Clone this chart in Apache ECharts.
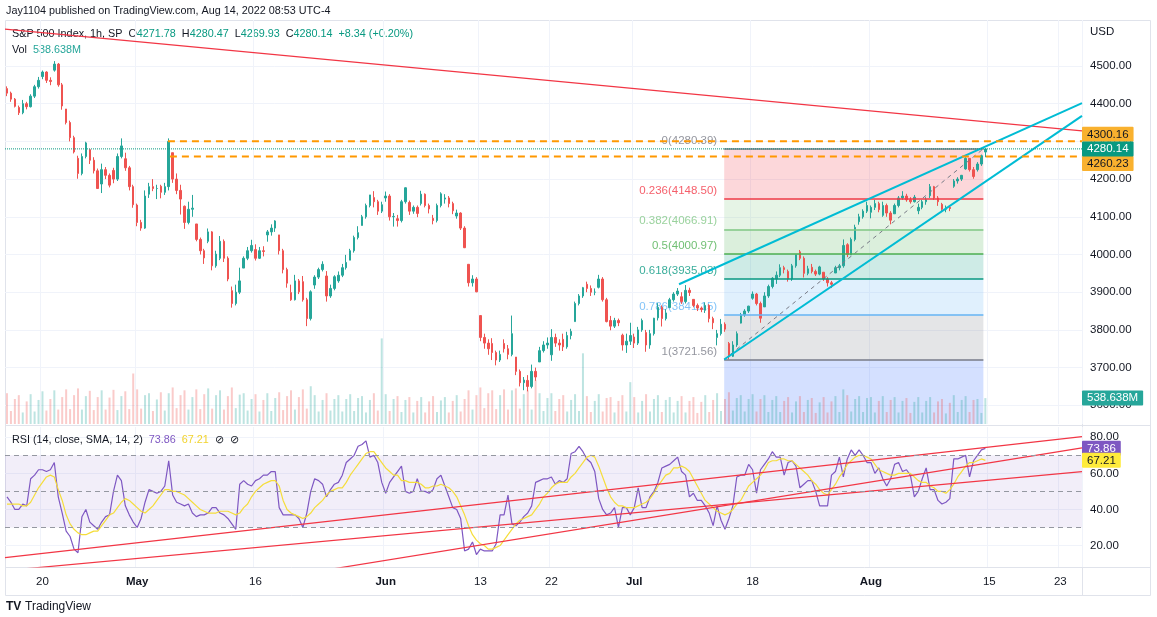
<!DOCTYPE html>
<html>
<head>
<meta charset="utf-8">
<script src="https://cdn.jsdelivr.net/npm/echarts@6/dist/echarts.min.js"></script>
<style>html,body{margin:0;padding:0;background:#fff}#c{width:1157px;height:617px}</style>
</head>
<body>
<div id="c"></div>
<script>
// ---------- DATA ----------
const tradingDays = ['04-14','04-18','04-19','04-20','04-21','04-22','04-25','04-26','04-27','04-28','04-29',
'05-02','05-03','05-04','05-05','05-06','05-09','05-10','05-11','05-12','05-13','05-16','05-17','05-18','05-19','05-20','05-23','05-24','05-25','05-26','05-27','05-31',
'06-01','06-02','06-03','06-06','06-07','06-08','06-09','06-10','06-13','06-14','06-15','06-16','06-17','06-21','06-22','06-23','06-24','06-27','06-28','06-29','06-30',
'07-01','07-05','07-06','07-07','07-08','07-11','07-12','07-13','07-14','07-15','07-18','07-19','07-20','07-21','07-22','07-25','07-26','07-27','07-28','07-29',
'08-01','08-02','08-03','08-04','08-05','08-08','08-09','08-10','08-11','08-12'];
const futureDays = ['08-15','08-16','08-17','08-18','08-19','08-22','08-23','08-24'];
const barsPerDay = 3;
const tickDays  = ['04-20','05-02','05-16','06-01','06-13','06-22','07-01','07-18','08-01','08-15','08-23'];
const tickTexts = ['20','May','16','Jun','13','22','Jul','18','Aug','15','23'];
const priceTicks = [3600,3700,3800,3900,4000,4100,4200,4300,4400,4500];
const rsiTicks = [20,40,60,80];
const rsiLevels = [70,50,30];

// [open, high, low, close] — 3 bars per trading day
const ohlc = [
[4440,4446,4420,4428],[4428,4432,4405,4412],[4412,4415,4390,4393],
[4390,4395,4370,4376],[4376,4410,4372,4400],[4400,4405,4385,4392],
[4392,4425,4390,4420],[4420,4450,4415,4445],[4445,4471,4440,4462],
[4472,4488,4465,4484],[4484,4486,4455,4462],[4462,4470,4449,4459],
[4489,4513,4485,4505],[4505,4508,4445,4450],[4450,4455,4384,4394],
[4386,4386,4345,4350],[4350,4355,4300,4310],[4310,4315,4268,4272],
[4255,4262,4201,4215],[4215,4268,4210,4260],[4260,4299,4255,4296],
[4278,4280,4240,4250],[4250,4258,4215,4222],[4222,4228,4175,4175],
[4187,4241,4163,4225],[4225,4232,4200,4210],[4210,4215,4178,4184],
[4223,4230,4189,4200],[4200,4268,4195,4260],[4260,4308,4255,4288],
[4254,4270,4222,4230],[4230,4235,4170,4180],[4180,4185,4124,4132],
[4131,4135,4075,4085],[4085,4092,4063,4070],[4070,4170,4068,4155],
[4160,4190,4150,4180],[4180,4200,4168,4175],[4175,4185,4147,4175],
[4181,4185,4149,4165],[4165,4190,4158,4180],[4180,4308,4170,4300],
[4270,4270,4190,4200],[4200,4215,4160,4170],[4170,4185,4106,4147],
[4128,4130,4068,4085],[4085,4140,4080,4120],[4120,4158,4100,4123],
[4081,4081,4035,4040],[4040,4045,4000,4010],[4010,4015,3975,3991],
[4035,4069,4030,4060],[4060,4062,3958,3970],[3970,4010,3965,4001],
[3990,4049,3985,4035],[4035,4040,3980,3990],[3990,3995,3929,3935],
[3904,3915,3859,3870],[3870,3920,3865,3900],[3900,3965,3895,3930],
[3964,3995,3964,3990],[3990,4020,3985,4010],[4010,4039,4005,4024],
[4013,4027,3984,3990],[3990,4020,3988,4010],[4010,4022,3995,4008],
[4052,4065,4034,4060],[4060,4080,4050,4070],[4070,4091,4060,4089],
[4052,4052,4000,4010],[4010,4015,3950,3960],[3960,3965,3912,3924],
[3899,3920,3877,3880],[3880,3946,3878,3930],[3930,3935,3895,3901],
[3928,3943,3875,3880],[3880,3885,3810,3830],[3830,3905,3825,3901],
[3919,3945,3909,3940],[3940,3965,3935,3960],[3960,3982,3955,3974],
[3943,3956,3875,3890],[3890,3920,3885,3910],[3910,3945,3905,3941],
[3930,3955,3925,3945],[3945,3975,3940,3965],[3965,3999,3960,3979],
[3985,4015,3985,4010],[4010,4050,4005,4045],[4045,4075,4040,4058],
[4077,4105,4077,4100],[4100,4135,4095,4130],[4130,4158,4125,4158],
[4151,4168,4125,4140],[4140,4145,4105,4115],[4115,4140,4110,4132],
[4150,4167,4140,4155],[4155,4160,4090,4100],[4100,4110,4074,4101],
[4095,4105,4074,4090],[4090,4145,4085,4140],[4140,4178,4135,4177],
[4138,4143,4105,4115],[4115,4130,4108,4125],[4125,4130,4099,4109],
[4135,4169,4130,4160],[4160,4162,4125,4130],[4130,4135,4109,4121],
[4096,4105,4080,4090],[4090,4135,4085,4130],[4130,4165,4125,4161],
[4147,4160,4135,4150],[4150,4155,4125,4135],[4135,4140,4107,4116],
[4102,4119,4095,4110],[4110,4112,4065,4070],[4070,4075,4017,4018],
[3974,3974,3915,3925],[3925,3945,3915,3935],[3935,3940,3900,3901],
[3838,3838,3770,3780],[3780,3790,3750,3765],[3765,3775,3734,3750],
[3764,3778,3720,3740],[3740,3745,3706,3720],[3720,3745,3715,3735],
[3764,3775,3740,3750],[3750,3760,3722,3735],[3735,3838,3730,3790],
[3728,3728,3680,3690],[3690,3695,3650,3660],[3660,3675,3640,3667],
[3666,3680,3637,3650],[3650,3708,3645,3690],[3690,3700,3665,3675],
[3715,3755,3715,3745],[3745,3770,3740,3760],[3760,3780,3750,3765],
[3734,3802,3718,3780],[3780,3790,3755,3765],[3765,3775,3745,3760],
[3775,3790,3744,3755],[3755,3795,3750,3785],[3785,3803,3775,3796],
[3822,3875,3822,3870],[3870,3895,3865,3890],[3890,3914,3885,3912],
[3921,3928,3900,3910],[3910,3918,3890,3900],[3900,3910,3892,3900],
[3913,3946,3910,3935],[3935,3940,3875,3880],[3880,3885,3820,3822],
[3825,3837,3799,3810],[3810,3832,3805,3825],[3825,3830,3810,3819],
[3786,3790,3745,3760],[3760,3790,3739,3770],[3770,3819,3760,3785],
[3781,3790,3752,3765],[3765,3808,3760,3800],[3800,3830,3795,3825],
[3793,3800,3742,3760],[3760,3800,3750,3790],[3790,3832,3785,3831],
[3832,3871,3825,3860],[3860,3865,3809,3830],[3830,3855,3825,3845],
[3859,3885,3859,3880],[3880,3900,3875,3895],[3895,3911,3890,3903],
[3888,3900,3869,3875],[3875,3919,3870,3905],[3905,3912,3890,3899],
[3881,3881,3860,3865],[3865,3870,3850,3858],[3858,3862,3847,3854],
[3852,3873,3845,3865],[3865,3868,3820,3830],[3830,3835,3802,3819],
[3780,3800,3759,3790],[3790,3829,3785,3815],[3815,3820,3795,3802],
[3764,3768,3722,3730],[3730,3770,3728,3760],[3760,3796,3755,3790],
[3818,3845,3817,3840],[3840,3855,3835,3850],[3850,3864,3845,3863],
[3884,3902,3880,3895],[3895,3898,3865,3870],[3870,3875,3819,3831],
[3861,3900,3861,3890],[3890,3920,3885,3915],[3915,3940,3910,3937],
[3935,3955,3922,3945],[3945,3974,3940,3965],[3965,3970,3950,3960],
[3955,3960,3928,3935],[3935,3975,3930,3970],[3970,3999,3965,3999],
[4007,4012,3985,3990],[3990,3995,3939,3950],[3950,3970,3945,3962],
[3966,3975,3950,3955],[3955,3960,3943,3948],[3948,3970,3945,3967],
[3953,3953,3930,3935],[3935,3940,3915,3925],[3925,3930,3911,3921],
[3951,3970,3951,3965],[3965,3975,3958,3970],[3970,4040,3965,4024],
[4026,4030,3993,4000],[4000,4045,3998,4040],[4040,4079,4035,4072],
[4087,4108,4079,4100],[4100,4120,4095,4115],[4115,4140,4110,4130],
[4112,4130,4096,4125],[4125,4145,4118,4135],[4135,4140,4112,4119],
[4104,4140,4100,4130],[4130,4135,4100,4110],[4110,4115,4080,4091],
[4108,4135,4108,4130],[4130,4155,4125,4150],[4150,4168,4145,4155],
[4155,4161,4140,4145],[4145,4152,4135,4140],[4140,4158,4138,4152],
[4116,4135,4107,4125],[4125,4145,4120,4140],[4140,4152,4132,4145],
[4156,4187,4150,4180],[4180,4182,4145,4150],[4150,4155,4129,4140],
[4133,4137,4115,4120],[4120,4130,4112,4125],[4125,4130,4115,4122],
[4181,4200,4177,4195],[4195,4205,4188,4200],[4200,4211,4195,4210],
[4227,4258,4225,4255],[4255,4256,4220,4225],[4225,4232,4201,4207],
[4225,4245,4220,4240],[4240,4265,4235,4262],[4271.78,4280.47,4258,4280.14]
];

// volume, millions
const volume = [
640,270,520, 600,240,470, 620,260,500, 680,280,520, 700,300,560, 720,310,600, 740,300,580, 690,290,560, 700,300,550, 710,290,580, 680,310,1050,
720,320,600, 640,270,510, 660,280,640, 760,330,600, 700,300,560, 720,310,620, 740,320,600, 700,300,580, 760,330,610, 640,280,520,
620,260,500, 640,270,540, 660,290,580, 700,300,560, 720,320,785, 600,260,500, 640,280,520, 600,260,520, 620,270,540, 580,240,500, 640,280,1780,
620,270,520, 580,250,500, 560,240,480, 560,240,470, 580,250,490, 560,240,480, 600,260,520, 700,300,600, 760,330,640, 700,310,600,
720,300,700, 740,320,620, 700,300,910, 640,270,540, 640,270,520, 600,260,500, 620,270,1470, 580,250,480, 620,260,540, 560,240,480, 600,260,870,
560,240,480, 620,260,520, 600,250,500, 560,240,480, 580,240,480, 560,230,460, 600,250,500, 640,270,520, 660,280,540, 600,260,520,
620,260,520, 600,250,500, 580,250,480, 560,240,470, 580,250,500, 540,230,450, 560,240,470, 580,250,720, 600,260,520, 580,250,540,
560,240,480, 580,250,500, 560,240,480, 540,230,460, 560,240,480, 560,240,470, 520,220,440, 600,250,500, 580,250,500, 520,230,538.638
];

const rsi = [
47,44,40,40,43,42,57,59,62,62,61,62,
66,47,38,28,25,18,16,36,40,33,31,29,
33,36,37,50,59,56,42,37,33,30,35,44,
51,50,49,50,53,67,48,44,43,42,43,38,
36,37,37,38,41,41,38,37,35,32,29,54,
56,54,53,56,57,59,59,61,61,41,37,37,
37,37,35,30,38,50,57,56,54,47,51,54,
55,59,66,68,70,75,76,78,69,70,66,55,
49,55,58,61,
64,50,49,50,57,50,50,49,51,57,59,53,
47,41,40,35,17,18,22,15,18,17,17,17,
21,37,37,48,32,31,33,36,38,42,55,56,
57,57,58,54,56,55,57,71,72,75,72,68,
66,61,46,40,37,38,41,30,41,41,37,41,
52,41,41,47,50,55,63,64,65,67,69,61,
59,47,49,45,45,42,38,31,42,34,29,35,
42,58,59,59,65,62,49,62,
65,68,72,69,69,59,66,67,64,52,54,56,
56,50,42,42,42,59,61,69,58,68,73,70,
73,70,66,66,60,63,57,53,57,65,66,61,
62,59,47,50,57,63,51,51,45,43,44,46,
68,68,69,70,58,67,70,73,73.86
];

const rsiMa = [
43,43,43,43,42,42,44,48,52,55,58,59,
58,51,45,37,32,29,27,26,26,27,28,28,
31,34,37,38,41,44,46,45,43,41,39,38,
40,42,45,48,51,51,50,50,49,48,46,44,
42,40,39,38,38,38,39,39,39,38,37,38,
41,43,47,50,52,54,55,56,56,53,45,40,
38,37,36,35,36,38,41,43,45,48,50,51,
52,52,55,59,62,65,68,71,72,72,69,66,
63,61,59,59,
56,56,55,55,55,54,52,52,53,53,54,53,
52,50,47,42,37,31,26,23,21,20,18,18,
19,20,23,26,29,32,34,35,36,37,40,43,
47,49,52,54,55,55,55,58,60,63,66,69,
70,69,64,58,52,47,44,42,42,41,41,41,
42,43,44,46,49,53,56,59,60,63,63,64,
63,61,57,53,49,45,43,41,39,38,37,38,
40,43,45,49,53,55,57,59,
62,66,67,67,68,68,67,67,65,63,61,59,
56,54,51,49,48,51,54,58,61,65,67,69,
70,70,69,68,65,62,61,60,59,59,60,60,
60,60,58,56,55,55,53,52,50,50,49,51,
54,58,61,64,66,66,67,68,67.21
];

// Fibonacci retracement (anchors on the bar-index time scale)
const fibRatios = [0,0.236,0.382,0.5,0.618,0.786,1];
const fibPrices = [4280.39,4148.50,4066.91,4000.97,3935.03,3841.15,3721.56];
const fibSpan = [182.3, 248.0];

// drawings: [barIndex, price]
const resistanceLine = [[0,4598],[273,4328]];
const wedgeUpper = [[170.85,3921],[273,4401.3]];
const wedgeLower = [[182.3,3721.56],[273,4367.6]];
const level4300 = [[41.3,4300.16],[273,4300.16]];
const level4260 = [[41.8,4260.23],[273,4260.23]];
// RSI trend lines: [barIndex, rsi]
const rsiLineA = [[0,13.3],[273,80.4]];
const rsiLineB = [[0,6.1],[273,61.0]];
const rsiLineC = [[77,4.9],[273,74.1]];

// ---------- BUILD ----------
const FONT = '"Liberation Sans", Arial, sans-serif';
const TXT = '#131722';
const GRID = '#f0f3fa';
const UP = '#26a69a', DOWN = '#ef5350';
const priceMin = 3550.4, priceMax = 4622.0;
const rsiMin = 8.1, rsiMax = 85.7;
const HIDDEN = 'rgba(0,0,0,0)';

const allDays = tradingDays.concat(futureDays);
const categories = [];
allDays.forEach(d => { for (let b = 0; b < barsPerDay; b++) categories.push(d + ' ' + b); });
const nBars = categories.length;
const tickMap = {};
tickDays.forEach((d, i) => { tickMap[d + ' 0'] = tickTexts[i]; });
const isTick = (idx, val) => tickMap[val] !== undefined;

const candleData = ohlc.map(r => [r[0], r[3], r[2], r[1]]);
const volData = volume.map((v, i) => ({
  value: v,
  itemStyle: { color: ohlc[i][3] >= ohlc[i][0] ? 'rgba(38,166,154,0.3)' : 'rgba(239,83,80,0.3)' }
}));
const lastClose = ohlc[ohlc.length - 1][3];
const lastVol = volume[volume.length - 1];
const lastRsi = rsi[rsi.length - 1];
const lastMa = rsiMa[rsiMa.length - 1];

const fibColors = ['#787b86','#f23645','#81c784','#4caf50','#089981','#64b5f6','#787b86'];
const fibBelow = '#2962ff';
function alpha(hex, a) {
  const n = parseInt(hex.slice(1), 16);
  return 'rgba(' + (n >> 16) + ',' + ((n >> 8) & 255) + ',' + (n & 255) + ',' + a + ')';
}
const fibAreas = [];
for (let i = 0; i < fibPrices.length - 1; i++) {
  fibAreas.push([{ coord: [fibSpan[0], fibPrices[i]], itemStyle: { color: alpha(fibColors[i + 1], 0.2) } },
                 { coord: [fibSpan[1], fibPrices[i + 1]] }]);
}
fibAreas.push([{ coord: [fibSpan[0], fibPrices[fibPrices.length - 1]], itemStyle: { color: alpha(fibBelow, 0.2) } },
               { coord: [fibSpan[1], priceMin] }]);
const fibLines = fibPrices.map((p, i) => [
  { coord: [fibSpan[0], p], lineStyle: { color: fibColors[i], width: 1.5, type: 'solid' } },
  { coord: [fibSpan[1], p] }
]);
const fibLabels = fibPrices.map((p, i) => ({
  value: [fibSpan[0], p],
  label: { color: fibColors[i], formatter: String(fibRatios[i]) + '(' + p.toFixed(2) + ')' }
}));

function seg(pts, color, width, type, z, extra) {
  return Object.assign({
    type: 'line', xAxisIndex: 4, yAxisIndex: 0, data: pts, showSymbol: false, symbol: 'none',
    silent: true, z: z, lineStyle: { color: color, width: width, type: type }
  }, extra || {});
}
function rseg(pts) {
  return { type: 'line', xAxisIndex: 5, yAxisIndex: 1, data: pts, showSymbol: false, symbol: 'none',
    silent: true, z: 4, lineStyle: { color: '#f23645', width: 1.2 } };
}
function boxLabel(text, bg, fg, offY) {
  return { show: true, position: 'end', formatter: text, backgroundColor: bg, color: fg, padding: [2, 5, 1, 5],
    fontSize: 11.5, fontFamily: FONT, distance: 0, offset: [0, offY || 0], borderRadius: 1 };
}

const catAxis = (grid, showSplit) => ({
  type: 'category', gridIndex: grid, data: categories, boundaryGap: true,
  axisLine: { show: false }, axisTick: { show: false }, axisLabel: { show: false },
  splitLine: { show: showSplit, interval: isTick, lineStyle: { color: GRID, width: 1 } }
});

const option = {
  animation: false,
  backgroundColor: '#ffffff',
  textStyle: { fontFamily: FONT },
  grid: [
    { left: 5, width: 1077, top: 20, height: 404 },
    { left: 5, width: 1077, top: 427, height: 140 },
    { left: 5, width: 1077, top: 20, height: 404 },
    { left: 5, width: 1077, top: 567, height: 1 }
  ],
  xAxis: [
    catAxis(0, true),
    catAxis(1, true),
    Object.assign(catAxis(2, false), { show: false }),
    {
      type: 'category', gridIndex: 3, data: categories, boundaryGap: true,
      axisLine: { show: false }, axisTick: { show: false },
      axisLabel: {
        interval: isTick, margin: 8, color: TXT, fontSize: 11.5,
        formatter: v => { const t = tickMap[v] || ''; return /[A-Za-z]/.test(t) ? '{m|' + t + '}' : t; },
        rich: { m: { fontWeight: 'bold', fontSize: 11.5, color: TXT } }
      }
    },
    { type: 'value', gridIndex: 0, min: 0, max: nBars, show: false },
    { type: 'value', gridIndex: 1, min: 0, max: nBars, show: false }
  ],
  yAxis: [
    {
      type: 'value', gridIndex: 0, position: 'right', min: priceMin, max: priceMax,
      axisLine: { show: false }, axisTick: { show: false, customValues: priceTicks },
      axisLabel: { customValues: priceTicks, formatter: v => v.toFixed(2), color: TXT, fontSize: 11.5, margin: 8 },
      splitLine: { show: true, lineStyle: { color: GRID } }
    },
    {
      type: 'value', gridIndex: 1, position: 'right', min: rsiMin, max: rsiMax,
      axisLine: { show: false }, axisTick: { show: false, customValues: rsiTicks },
      axisLabel: { customValues: rsiTicks, formatter: v => v.toFixed(2), color: TXT, fontSize: 11.5, margin: 8 },
      splitLine: { show: true, lineStyle: { color: GRID } }
    },
    { type: 'value', gridIndex: 2, min: 0, max: 8400, show: false },
    { type: 'value', gridIndex: 3, show: false }
  ],
  graphic: [
    { type: 'rect', silent: true, z: -10, shape: { x: 5.5, y: 20.5, width: 1145, height: 575 }, style: { fill: 'none', stroke: '#e0e3eb', lineWidth: 1 } },
    { type: 'line', silent: true, z: -10, shape: { x1: 5.5, y1: 425.5, x2: 1150.5, y2: 425.5 }, style: { stroke: '#e0e3eb', lineWidth: 1 } },
    { type: 'line', silent: true, z: -10, shape: { x1: 5.5, y1: 567.5, x2: 1150.5, y2: 567.5 }, style: { stroke: '#e0e3eb', lineWidth: 1 } },
    { type: 'line', silent: true, z: -10, shape: { x1: 1082.5, y1: 20.5, x2: 1082.5, y2: 595.5 }, style: { stroke: '#e0e3eb', lineWidth: 1 } },
    { type: 'text', silent: true, z: -5, x: 6, y: 11, style: { text: 'Jay1104 published on TradingView.com, Aug 14, 2022 08:53 UTC-4', fill: TXT, fontSize: 10.8, fontFamily: FONT, verticalAlign: 'middle' } },
    { type: 'text', silent: true, z: -5, x: 12, y: 34, style: {
        text: '{k|S&P 500 Index, 1h, SP  O}{g|4271.78}{k|  H}{g|4280.47}{k|  L}{g|4269.93}{k|  C}{g|4280.14}{g|  +8.34 (+0.20%)}',
        verticalAlign: 'middle', fontSize: 10.8, fontFamily: FONT,
        rich: { k: { fill: TXT, fontSize: 10.8, fontFamily: FONT }, g: { fill: '#089981', fontSize: 10.8, fontFamily: FONT } } } },
    { type: 'text', silent: true, z: -5, x: 12, y: 50, style: {
        text: '{k|Vol  }{g|538.638M}', verticalAlign: 'middle', fontSize: 10.8, fontFamily: FONT,
        rich: { k: { fill: TXT, fontSize: 10.8, fontFamily: FONT }, g: { fill: '#26a69a', fontSize: 10.8, fontFamily: FONT } } } },
    { type: 'text', silent: true, z: 50, x: 12, y: 440, style: {
        text: '{k|RSI (14, close, SMA, 14, 2)  }{p|73.86}{k|  }{y|67.21}{k|  ⊘  ⊘}', verticalAlign: 'middle', fontSize: 10.8, fontFamily: FONT,
        rich: { k: { fill: TXT, fontSize: 10.8, fontFamily: FONT }, p: { fill: '#7e57c2', fontSize: 10.8, fontFamily: FONT }, y: { fill: '#f2d32c', fontSize: 10.8, fontFamily: FONT } } } },
    { type: 'text', silent: true, z: -5, x: 1090, y: 32, style: { text: 'USD', fill: TXT, fontSize: 11.5, fontFamily: FONT, verticalAlign: 'middle' } },
    { type: 'text', silent: true, z: -5, x: 6, y: 607, style: { text: 'TV', fill: TXT, fontSize: 12, fontWeight: 900, fontFamily: FONT, verticalAlign: 'middle' } },
    { type: 'text', silent: true, z: -5, x: 25, y: 607, style: { text: 'TradingView', fill: TXT, fontSize: 12, fontFamily: FONT, verticalAlign: 'middle' } }
  ],
  series: [
    {
      type: 'bar', name: 'Vol', xAxisIndex: 2, yAxisIndex: 2, data: volData, barWidth: 2, z: 1, silent: true,
      markLine: { silent: true, symbol: ['none', 'none'], z: 10,
        data: [{ yAxis: lastVol, lineStyle: { color: HIDDEN, width: 1 }, label: boxLabel(lastVol.toFixed(3) + 'M', '#26a69a', '#ffffff') }] }
    },
    {
      type: 'line', xAxisIndex: 4, yAxisIndex: 0, data: [[fibSpan[0], fibPrices[0]]], showSymbol: false, symbol: 'none',
      lineStyle: { opacity: 0 }, z: 2, silent: true,
      markArea: { silent: true, data: fibAreas },
      markLine: { silent: true, symbol: ['none', 'none'], label: { show: false }, data: fibLines }
    },
    {
      type: 'scatter', xAxisIndex: 4, yAxisIndex: 0, data: fibLabels, symbolSize: 0, z: 2, silent: true,
      label: { show: true, position: 'left', distance: 7, offset: [0, -8], fontSize: 11.5, fontFamily: FONT }
    },
    {
      type: 'candlestick', name: 'SPX', xAxisIndex: 0, yAxisIndex: 0, data: candleData, barWidth: 2, z: 3, silent: true,
      itemStyle: { color: UP, color0: DOWN, borderColor: UP, borderColor0: DOWN, borderWidth: 1 }
    },
    seg([[fibSpan[0], fibPrices[6]], [fibSpan[1], fibPrices[0]]], '#787b86', 1, [4, 4], 4),
    seg(resistanceLine, '#f23645', 1.2, 'solid', 5),
    seg(wedgeUpper, '#00bcd4', 2, 'solid', 5),
    seg(wedgeLower, '#00bcd4', 2, 'solid', 5),
    seg(level4300, '#ff9800', 2, [7, 5], 5, { endLabel: boxLabel('4300.16', '#f9b12f', TXT, -7) }),
    seg(level4260, '#ff9800', 2, [7, 5], 5, { endLabel: boxLabel('4260.23', '#f9b12f', TXT, 7) }),
    seg([[0, lastClose], [nBars, lastClose]], '#089981', 1, 'dotted', 6, { endLabel: boxLabel(lastClose.toFixed(2), '#089981', '#ffffff', 0) }),
    {
      type: 'line', name: 'RSI', xAxisIndex: 1, yAxisIndex: 1, data: rsi, showSymbol: false, symbol: 'none', z: 3, silent: true,
      lineStyle: { color: '#7e57c2', width: 1.2 },
      markArea: { silent: true, itemStyle: { color: 'rgba(126,87,194,0.1)' }, data: [[{ yAxis: 30 }, { yAxis: 70 }]] },
      markLine: { silent: true, symbol: ['none', 'none'], z: 10,
        data: rsiLevels.map(v => ({ yAxis: v, lineStyle: { color: '#9598a1', type: [5, 4], width: 1 }, label: { show: false } }))
          .concat([
            { yAxis: lastRsi, lineStyle: { color: HIDDEN, width: 1 }, label: boxLabel(lastRsi.toFixed(2), '#7e57c2', '#ffffff') },
            { yAxis: lastMa, lineStyle: { color: HIDDEN, width: 1 }, label: boxLabel(lastMa.toFixed(2), '#ffeb3b', TXT) }
          ]) }
    },
    {
      type: 'line', name: 'RSI MA', xAxisIndex: 1, yAxisIndex: 1, data: rsiMa, showSymbol: false, symbol: 'none', z: 3, silent: true,
      lineStyle: { color: '#f5dd3a', width: 1.2 }
    },
    rseg(rsiLineA), rseg(rsiLineB), rseg(rsiLineC),
    { type: 'line', xAxisIndex: 3, yAxisIndex: 3, data: [], silent: true }
  ]
};

const chart = echarts.init(document.getElementById('c'), null, { renderer: 'canvas', width: 1157, height: 617 });
chart.setOption(option);
</script>
</body>
</html>
